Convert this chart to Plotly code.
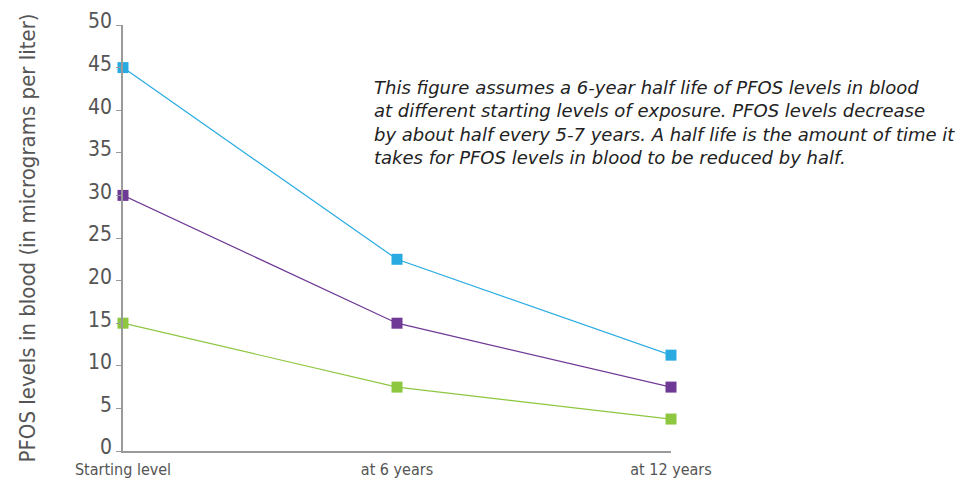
import plotly.graph_objects as go

categories = ["Starting level", "at 6 years", "at 12 years"]
high_series = [45, 22.5, 11.25]
mid_series = [30, 15, 7.5]
low_series = [15, 7.5, 3.75]
y_ticks = [0, 5, 10, 15, 20, 25, 30, 35, 40, 45, 50]

note = ("This figure assumes a 6-year half life of PFOS levels in blood<br>"
        "at different starting levels of exposure. PFOS levels decrease<br>"
        "by about half every 5-7 years. A half life is the amount of time it<br>"
        "takes for PFOS levels in blood to be reduced by half.")

series = [(high_series, "#29ABE2"), (mid_series, "#6F3996"), (low_series, "#8DC63F")]

fig = go.Figure()
for vals, col in series:
    fig.add_trace(go.Scatter(
        x=list(range(len(categories))), y=vals, mode="lines+markers",
        line=dict(color=col, width=1.2),
        marker=dict(symbol="square", size=11, color=col),
        cliponaxis=False, showlegend=False, hoverinfo="skip"))

cond = "DejaVu Sans Condensed, Liberation Sans Narrow, sans-serif"

fig.update_layout(
    width=957, height=483,
    margin=dict(l=123, r=286, t=25, b=32),
    paper_bgcolor="white", plot_bgcolor="white",
    xaxis=dict(
        range=[0, 2], tickmode="array", tickvals=list(range(len(categories))),
        ticktext=categories, showgrid=False, zeroline=False, automargin=False,
        showline=True, linecolor="#9a9a9a", linewidth=1.5,
        ticks="", ticklabelstandoff=3,
        tickfont=dict(family=cond, size=16, color="#555555"),
    ),
    yaxis=dict(
        range=[0, 50], tickmode="array", tickvals=y_ticks, automargin=False,
        showgrid=False, zeroline=False, showline=True, linecolor="#9a9a9a",
        linewidth=1.5, ticks="outside", ticklen=5, tickcolor="#9a9a9a",
        ticklabelshift=-4,
        tickfont=dict(family=cond, size=21, color="#555555"),
        title=dict(text="PFOS levels in blood (in micrograms per liter)",
                   font=dict(family=cond, size=22, color="#555555"),
                   standoff=46),
    ),
    annotations=[dict(
        text=note, xref="paper", yref="paper", x=(372 - 123) / 548,
        y=1 - (75 - 25) / 426, xanchor="left", yanchor="top", align="left",
        showarrow=False,
        font=dict(family="DejaVu Sans, sans-serif", size=18,
                  color="#222222", style="italic"),
    )],
)

fig.write_html("out.html", config={"displayModeBar": False},
               post_script="document.body.style.margin='0';")
